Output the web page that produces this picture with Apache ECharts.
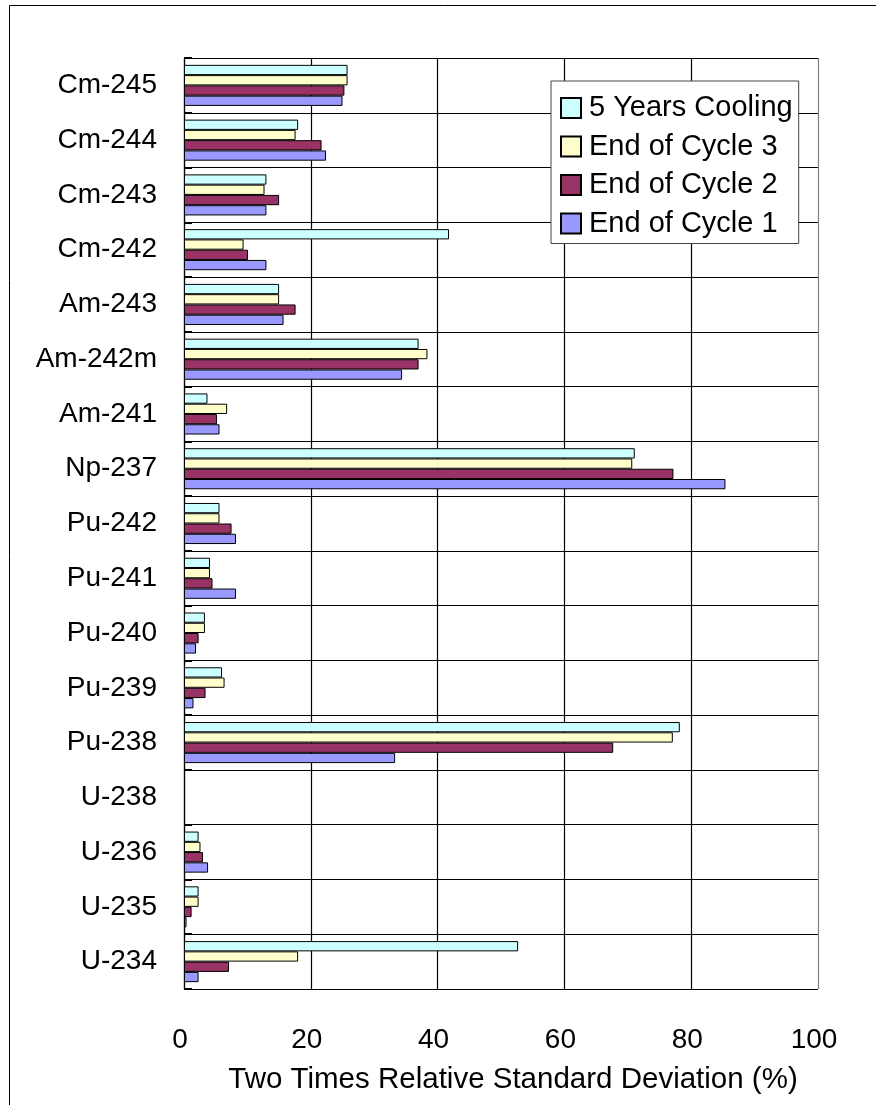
<!DOCTYPE html>
<html>
<head>
<meta charset="utf-8">
<script src="https://cdn.jsdelivr.net/npm/echarts@6/dist/echarts.min.js"></script>
<style>
html,body{margin:0;padding:0;background:#fff;}
#chart{width:876px;height:1105px;}
</style>
</head>
<body>
<div id="chart"></div>
<script>
const categories = ['U-234','U-235','U-236','U-238','Pu-238','Pu-239','Pu-240','Pu-241','Pu-242','Np-237','Am-241','Am-242m','Am-243','Cm-242','Cm-243','Cm-244','Cm-245'];
const cooling5 = [52.7, 2.3, 2.3, null, 78.2, 6.0, 3.3, 4.1, 5.6, 71.1, 3.7, 37.0, 15.0, 41.8, 13.0, 18.0, 25.8];
const cycle3   = [18.0, 2.3, 2.6, null, 77.1, 6.4, 3.3, 4.1, 5.6, 70.7, 6.8, 38.4, 15.0, 9.4, 12.7, 17.6, 25.8];
const cycle2   = [7.1, 1.2, 3.0, null, 67.7, 3.4, 2.3, 4.5, 7.5, 77.2, 5.2, 37.0, 17.6, 10.1, 15.0, 21.7, 25.3];
const cycle1   = [2.3, 0.4, 3.8, null, 33.3, 1.5, 1.9, 8.2, 8.2, 85.4, 5.6, 34.4, 15.7, 13.0, 13.0, 22.4, 25.0];
const xTicks = [0, 20, 40, 60, 80, 100];
const seriesNames = ['5 Years Cooling','End of Cycle 3','End of Cycle 2','End of Cycle 1'];
const seriesData = [cooling5, cycle3, cycle2, cycle1];
const seriesColors = ['#CCFFFF','#FFFFCC','#993366','#9999FF'];

const FONT = "'Liberation Sans', Arial, sans-serif";
const chart = echarts.init(document.getElementById('chart'), null, {renderer:'canvas'});

const series = seriesNames.map((n, i) => ({
  name: n,
  type: 'bar',
  data: seriesData[i],
  barGap: '0%',
  barCategoryGap: '25%',
  itemStyle: { color: seriesColors[i], borderColor: '#000', borderWidth: 1 },
  emphasis: { disabled: true },
  animation: false
}));

chart.setOption({
  animation: false,
  backgroundColor: '#fff',
  textStyle: { fontFamily: FONT },
  graphic: [{
    type: 'rect', silent: true,
    shape: { x: 9.5, y: 5.5, width: 900, height: 1200 },
    style: { fill: 'none', stroke: '#000', lineWidth: 1 }
  }],
  grid: { left: 184, right: 58, top: 58, bottom: 116, containLabel: false, show: false },
  legend: {
    data: seriesNames,
    orient: 'vertical',
    left: 551, top: 81,
    backgroundColor: '#fff',
    borderColor: '#444', borderWidth: 1,
    padding: [12, 6, 5, 9],
    itemWidth: 20, itemHeight: 20,
    itemGap: 8.5,
    icon: 'rect',
    selectedMode: false,
    textStyle: { fontFamily: FONT, fontSize: 29, color: '#000', lineHeight: 30, padding: [0,0,0,3] }
  },
  xAxis: {
    type: 'value', min: 0, max: 100, interval: 20,
    axisLine: { show: false },
    axisTick: { show: false },
    axisLabel: { fontFamily: FONT, fontSize: 28, color: '#000', margin: 37, padding: [0,8,0,0] },
    splitLine: { show: true, lineStyle: { color: ['#000','#000','#000','#000','#000','#808080'], width: 1.2 } },
    name: 'Two Times Relative Standard Deviation (%)',
    nameLocation: 'middle',
    nameGap: 76,
    nameTextStyle: { fontFamily: FONT, fontSize: 29.5, color: '#000', padding: [0,0,0,24] }
  },
  yAxis: {
    type: 'category', data: categories,
    axisLine: { show: true, lineStyle: { color: '#000', width: 1.2 } },
    axisTick: { show: true, inside: true, length: 8, lineStyle: { color: '#000', width: 2 } },
    axisLabel: { fontFamily: FONT, fontSize: 28, color: '#000', margin: 27 },
    splitLine: { show: true, lineStyle: { color: '#000', width: 1.2 } }
  },
  series: series
});
</script>
</body>
</html>
